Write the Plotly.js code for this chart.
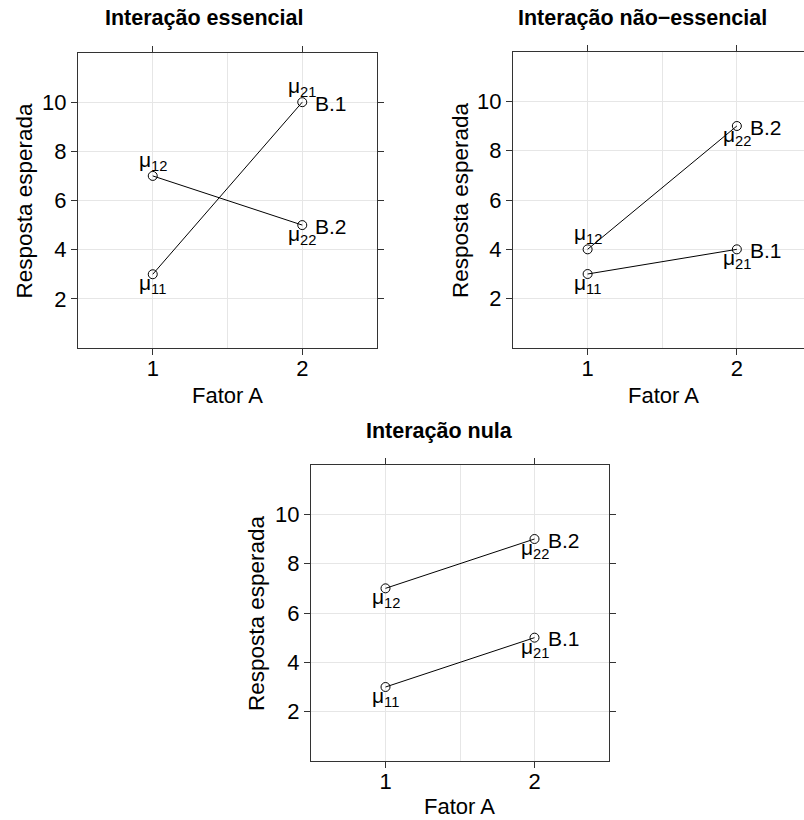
<!DOCTYPE html>
<html><head><meta charset="utf-8">
<script src="https://cdn.plot.ly/plotly-3.0.1.min.js"></script>
<style>html,body{margin:0;padding:0;background:#fff}</style>
</head><body><div id="chart" style="width:804px;height:820px"></div>
<script>
// ---- data ----
const fatorA = [1, 2];
const yTicks = [2, 4, 6, 8, 10];
const panelTitles = ["Interação essencial", "Interação não−essencial", "Interação nula"];
const essencialB1 = [3, 10];
const essencialB2 = [7, 5];
const naoEssencialB1 = [3, 4];
const naoEssencialB2 = [4, 9];
const nulaB1 = [3, 5];
const nulaB2 = [7, 9];
const seriesNames = ["B.1", "B.2"];
const muLabels = [["μ<sub>11</sub>", "μ<sub>21</sub>"], ["μ<sub>12</sub>", "μ<sub>22</sub>"]];
const xTitle = "Fator A";
const yTitle = "Resposta esperada";

// ---- layout helpers ----
const W = 804, H = 820;
const FONT = "Liberation Sans, Arial, Helvetica, sans-serif";
const fx = p => p / W, fy = p => 1 - p / H;

const panels = [
  {B: [essencialB1, essencialB2], side: [["below","above"],["above","below"]],
   box: [78, 377, 53, 348], xr: [0.5, 2.5], mirrorY: true,
   titleX: 204, titleY: 18, yTitleX: 24, xTitleX: 227, xTitleY: 395},
  {B: [naoEssencialB1, naoEssencialB2], side: [["below","below"],["above","below"]],
   box: [513, 804, 52, 348], xr: [0.5, 2.45], mirrorY: false,
   titleX: 642, titleY: 18, yTitleX: 460, xTitleX: 663, xTitleY: 395},
  {B: [nulaB1, nulaB2], side: [["below","below"],["below","below"]],
   box: [311, 609, 465, 761], xr: [0.5, 2.5], mirrorY: true,
   titleX: 440, titleY: 431, yTitleX: 256, xTitleX: 460, xTitleY: 806}
];

const data = [];
const annotations = [];
const layout = {
  width: W, height: H, showlegend: false,
  margin: {l: 0, r: 0, t: 0, b: 0},
  paper_bgcolor: "#fff", plot_bgcolor: "#fff",
  font: {family: FONT, size: 21, color: "#000"}
};

panels.forEach((p, k) => {
  const s = k === 0 ? "" : String(k + 1);
  const xa = "x" + s, ya = "y" + s;
  const axCommon = {
    showline: true, linecolor: "#333", linewidth: 1,
    ticks: "outside", ticklen: 6, tickcolor: "#333", tickwidth: 1,
    showgrid: true, gridcolor: "#e6e6e6", gridwidth: 1, zeroline: false,
    tickfont: {family: FONT, size: 22, color: "#000"}, fixedrange: true
  };
  layout["xaxis" + s] = Object.assign({}, axCommon, {
    domain: [fx(p.box[0]), fx(p.box[1])], range: p.xr, anchor: ya,
    tickmode: "array", tickvals: fatorA, ticktext: fatorA.map(String),
    mirror: "ticks", ticklabelstandoff: -5,
    minor: {tickmode: "array", tickvals: [1.5], showgrid: true, gridcolor: "#e6e6e6", ticks: ""}
  });
  layout["yaxis" + s] = Object.assign({}, axCommon, {
    domain: [fy(p.box[3]), fy(p.box[2])], range: [0, 12], anchor: xa,
    tickmode: "array", tickvals: yTicks, ticktext: yTicks.map(String),
    mirror: p.mirrorY ? "ticks" : false
  });

  p.B.forEach((vals, i) => {
    data.push({
      type: "scatter", mode: "lines+markers", x: fatorA, y: vals,
      xaxis: xa, yaxis: ya, name: seriesNames[i], cliponaxis: false,
      line: {color: "#000", width: 1},
      marker: {symbol: "circle-open", size: 9, color: "#000", line: {width: 1, color: "#000"}}
    });
    vals.forEach((v, j) => {
      const below = p.side[i][j] === "below";
      annotations.push({
        xref: xa, yref: ya, x: fatorA[j], y: v, text: muLabels[i][j],
        showarrow: false, xanchor: "center", yanchor: below ? "top" : "bottom",
        yshift: below ? 5 : 0, font: {size: 21, family: FONT, color: "#000"}
      });
    });
    annotations.push({
      xref: xa, yref: ya, x: fatorA[1], y: vals[1], text: seriesNames[i],
      showarrow: false, xanchor: "left", yanchor: "middle", xshift: 11, yshift: -1,
      font: {size: 21, family: FONT, color: "#000"}
    });
  });

  annotations.push({
    xref: "paper", yref: "paper", x: fx(p.titleX), y: fy(p.titleY),
    text: "<b>" + panelTitles[k] + "</b>", showarrow: false,
    xanchor: "center", yanchor: "middle", font: {size: 21.5, family: FONT, color: "#000"}
  });
  annotations.push({
    xref: "paper", yref: "paper", x: fx(p.xTitleX), y: fy(p.xTitleY),
    text: xTitle, showarrow: false, xanchor: "center", yanchor: "middle",
    font: {size: 22, family: FONT, color: "#000"}
  });
  annotations.push({
    xref: "paper", yref: "paper", x: fx(p.yTitleX), y: fy((p.box[2] + p.box[3]) / 2),
    text: yTitle, showarrow: false, textangle: -90, xanchor: "center", yanchor: "middle",
    font: {size: 22.5, family: FONT, color: "#000"}
  });
});
layout.annotations = annotations;

Plotly.newPlot("chart", data, layout, {staticPlot: true, displayModeBar: false});
</script>
</body></html>
